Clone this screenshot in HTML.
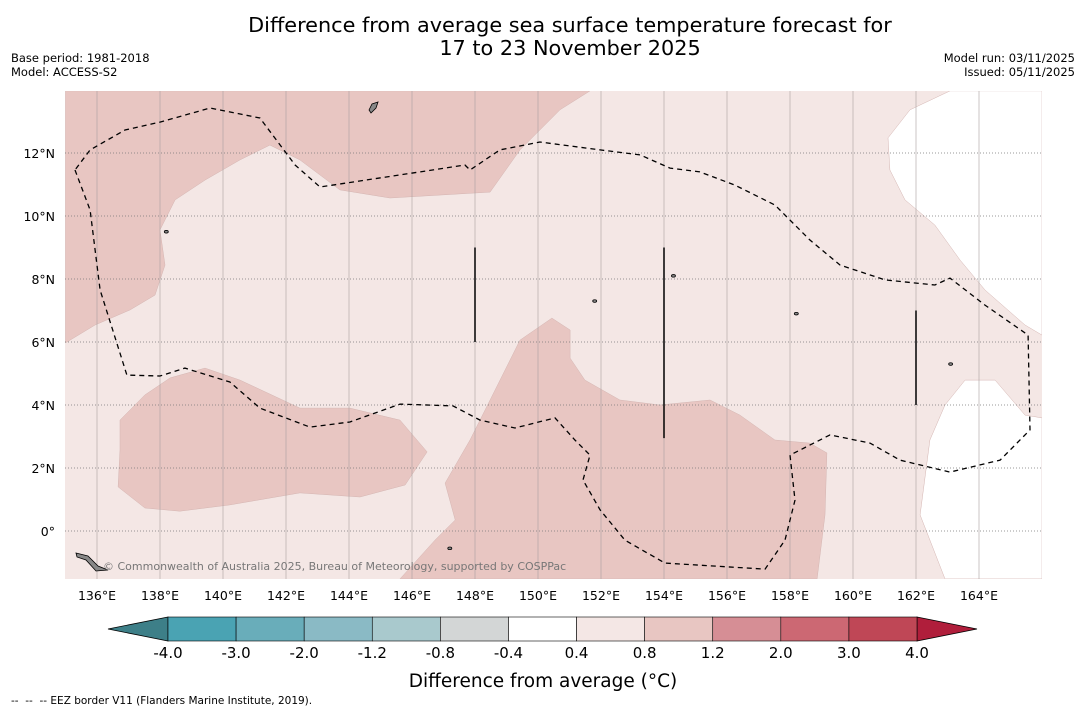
<!DOCTYPE html>
<html><head><meta charset="utf-8"><style>
body{margin:0;background:#fff;font-family:"DejaVu Sans","Liberation Sans",sans-serif;}
#wrap{position:relative;width:1085px;height:713px;overflow:hidden;background:#fff}
.t{position:absolute;white-space:nowrap;color:#000}
</style></head><body>
<div id="wrap">
<div class="t" style="left:0;width:1140px;text-align:center;top:14px;font-size:20.8px;line-height:23px">Difference from average sea surface temperature forecast for<br>17 to 23 November 2025</div>
<div class="t" style="left:11px;top:51px;font-size:11.5px;line-height:14px">Base period: 1981-2018<br>Model: ACCESS-S2</div>
<div class="t" style="right:10px;top:51px;font-size:11.5px;line-height:14px;text-align:right">Model run: 03/11/2025<br>Issued: 05/11/2025</div>
<svg id="svg" width="1085" height="713" style="position:absolute;left:0;top:0"></svg>
<div class="t" style="left:11px;top:695px;font-size:10.5px">--&nbsp; --&nbsp; -- EEZ border V11 (Flanders Marine Institute, 2019).</div>
</div>
<script>
const lonTicks=[136,138,140,142,144,146,148,150,152,154,156,158,160,162,164];
const latTicks=[0,2,4,6,8,10,12];
const latLabels=["0°","2°N","4°N","6°N","8°N","10°N","12°N"];
const cbLevels=[-4.0,-3.0,-2.0,-1.2,-0.8,-0.4,0.4,0.8,1.2,2.0,3.0,4.0];
const cbColors=["#4aa3b3","#69adba","#8abac5","#a9c9cd","#d3d6d6","#ffffff","#f4e7e5","#e8c6c2","#d68e95","#cc6873","#bf4756"];
const darkTopLeft=[[135,13.97],[151.65,13.97],[150.7,13.37],[149.43,12.1],[148.48,10.76],[145.3,10.57],[143.71,10.83],[142.44,11.78],[141.49,12.25],[140.54,11.78],[139.43,11.14],[138.48,10.51],[138.0,9.56],[138.16,8.44],[137.84,7.49],[137.05,7.02],[135.94,6.54],[135,5.97]];
const darkLeftBlob=[[136.73,3.52],[137.52,4.32],[138.32,4.86],[139.43,5.17],[140.54,4.79],[142.44,3.9],[144.03,3.9],[145.62,3.52],[146.48,2.51],[145.78,1.46],[144.35,1.08],[142.44,1.21],[140.22,0.83],[138.63,0.63],[137.52,0.73],[136.67,1.4],[136.73,2.57]];
const darkBottom=[[145.62,-1.52],[146.73,-0.29],[147.37,0.35],[147.05,1.52],[147.84,2.89],[148.48,4.16],[149.43,6.06],[150.44,6.76],[151.02,6.38],[151.02,5.49],[151.49,4.79],[152.6,4.16],[153.87,4.0],[155.46,4.16],[156.41,3.68],[157.52,2.89],[158.63,2.79],[159.17,2.48],[159.11,0.51],[158.86,-1.52]];
const whiteTop=[[163.08,13.97],[166,13.97],[166,6.22],[165.46,6.54],[164.19,7.65],[163.4,8.6],[162.6,9.71],[161.65,10.51],[161.17,11.46],[161.11,12.48],[161.81,13.37]];
const whiteBottom=[[166,3.59],[165.46,3.68],[164.51,4.79],[163.56,4.79],[162.92,4.0],[162.44,2.89],[162.13,0.51],[162.92,-1.52],[166,-1.52]];
const eez=[[135.3,11.46],[135.78,10.19],[136.1,7.65],[136.95,4.95],[138,4.92],[138.79,5.17],[140.22,4.73],[141.17,3.9],[142.76,3.3],[144.03,3.46],[145.62,4.03],[147.3,3.97],[148.16,3.52],[149.27,3.27],[150.54,3.59],[151.17,2.89],[151.65,2.41],[151.43,1.62],[151.97,0.67],[152.76,-0.29],[154.03,-1.02],[157.21,-1.21],[157.84,-0.29],[158.16,0.98],[158,2.41],[159.27,3.05],[160.54,2.79],[161.49,2.25],[163.08,1.87],[164.67,2.25],[165.62,3.21],[165.56,6.22],[164.19,7.17],[163.08,8.03],[162.6,7.81],[161.02,7.97],[159.59,8.44],[158.63,9.24],[157.52,10.35],[156.25,10.98],[155.14,11.4],[154.19,11.52],[153.24,11.94],[151.97,12.1],[150.06,12.35],[148.79,12.1],[147.84,11.46],[147.68,11.62],[146.25,11.4],[143.08,10.92],[142.29,11.62],[141.17,13.11],[139.59,13.43],[138,12.98],[136.89,12.73],[135.78,12.1],[135.3,11.46]];
const vLines=[[148,9,6],[154,9,2.95],[162,7,4]];
const islands=[[147.2,-0.55],[151.8,7.3],[158.2,6.9],[163.1,5.3],[138.2,9.5],[154.3,8.1]];
const NS='http://www.w3.org/2000/svg';
const svg=document.getElementById('svg');
const X0=65,X1=1042,Y0=91,Y1=579;
const FF='DejaVu Sans, Liberation Sans, sans-serif';
const lx=lon=>97+(lon-136)*31.5;
const ly=lat=>531-lat*31.5;
function mk(tag,attrs,parent){const e=document.createElementNS(NS,tag);for(const k in attrs)e.setAttribute(k,attrs[k]);(parent||svg).appendChild(e);return e;}
const pts=a=>a.map(p=>lx(p[0]).toFixed(1)+','+ly(p[1]).toFixed(1)).join(' ');
const cp=mk('clipPath',{id:'mc'});mk('rect',{x:X0,y:Y0,width:X1-X0,height:Y1-Y0},cp);
const g=mk('g',{'clip-path':'url(#mc)'});
const bg=mk('rect',{x:X0,y:Y0,width:X1-X0,height:Y1-Y0,fill:'#f4e7e5'},g);


[[darkTopLeft,'#e8c6c2','anomaly-region-northwest'],[darkLeftBlob,'#e8c6c2','anomaly-region-west'],[darkBottom,'#e8c6c2','anomaly-region-south'],[whiteTop,'#ffffff','neutral-region-northeast'],[whiteBottom,'#ffffff','neutral-region-east']].forEach(r=>{
 const p=mk('polygon',{points:pts(r[0]),fill:r[1],stroke:'#d4b5b2','stroke-width':0.5},g);
 
 
});
lonTicks.forEach(l=>{const ln=mk('line',{x1:lx(l),x2:lx(l),y1:Y0,y2:Y1,stroke:'#a8a0a0','stroke-width':0.6},g);
 
 });
latTicks.forEach(l=>{const ln=mk('line',{x1:X0,x2:X1,y1:ly(l),y2:ly(l),stroke:'#777','stroke-width':0.7,'stroke-dasharray':'1,2'},g);
 
 });
const e=mk('polyline',{points:pts(eez),fill:'none',stroke:'#000','stroke-width':1.3,'stroke-dasharray':'5,4'},g);


vLines.forEach(v=>{const ln=mk('line',{x1:lx(v[0]),x2:lx(v[0]),y1:ly(v[1]),y2:ly(v[2]),stroke:'#000','stroke-width':1.5},g);
 
 });
islands.forEach(i=>{const c=mk('ellipse',{cx:lx(i[0]),cy:ly(i[1]),rx:2,ry:1.3,fill:'#888',stroke:'#000','stroke-width':0.8},g);
 
 });
const png=mk('polygon',{points:'76,553 88,556 98,566 108,570 96,571 86,560 77,557',fill:'#888',stroke:'#000','stroke-width':0.8},g);


const gu=mk('polygon',{points:'369,110 372,104 378,102 376,108 371,113',fill:'#888',stroke:'#000','stroke-width':0.8},g);


const cr=mk('text',{x:103,y:570,'font-size':11,fill:'#777','font-family':FF},g);
cr.textContent='© Commonwealth of Australia 2025, Bureau of Meteorology, supported by COSPPac';


lonTicks.forEach(l=>{const t=mk('text',{x:lx(l),y:600,'text-anchor':'middle','font-size':12.5,'font-family':FF});
 t.textContent=l+'°E';
 
 });
latTicks.forEach((l,i)=>{const t=mk('text',{x:55,y:ly(l)+5,'text-anchor':'end','font-size':12.5,'font-family':FF});
 t.textContent=latLabels[i];
 
 });
// colorbar
const cbX0=168,cbX1=917,cbY=617,cbH=24;
const bw=(cbX1-cbX0)/cbColors.length;
const lt=mk('polygon',{points:`${cbX0},${cbY} 108,${cbY+cbH/2} ${cbX0},${cbY+cbH}`,fill:'#3d7f88',stroke:'#000','stroke-width':0.8});


const rt=mk('polygon',{points:`${cbX1},${cbY} 977,${cbY+cbH/2} ${cbX1},${cbY+cbH}`,fill:'#b01e3b',stroke:'#000','stroke-width':0.8});


cbColors.forEach((c,i)=>{const r=mk('rect',{x:cbX0+i*bw,y:cbY,width:bw,height:cbH,fill:c,stroke:'#000','stroke-width':0.6});
 
 });
cbLevels.forEach((v,i)=>{const t=mk('text',{x:cbX0+i*bw,y:658,'text-anchor':'middle','font-size':15,'font-family':FF});
 t.textContent=v.toFixed(1);
 
 });
const ct=mk('text',{x:543,y:687,'text-anchor':'middle','font-size':18.5,'font-family':FF});
ct.textContent='Difference from average (°C)';


</script>
</body></html>
